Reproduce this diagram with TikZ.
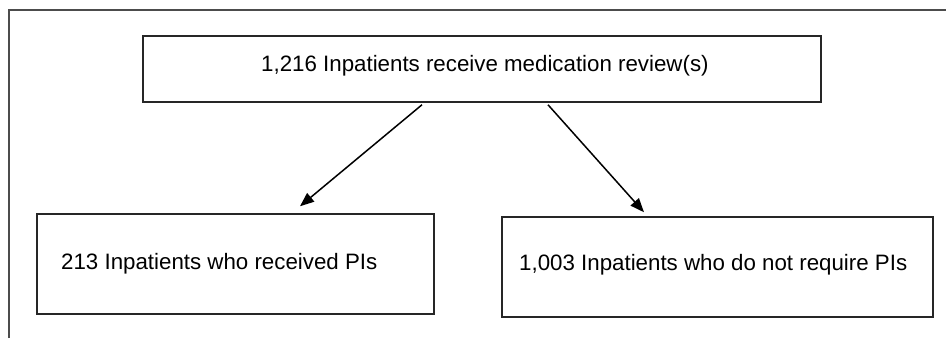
\documentclass[tikz,border=0pt]{standalone}
\usepackage{fontspec}
\setmainfont{Liberation Sans}
\usetikzlibrary{arrows.meta}
\tikzstyle{item} = [rectangle, draw=black!85, line width=1.5pt, inner sep=0pt]
\tikzstyle{label} = [inner sep=0pt, anchor=base west, font=\fontsize{22.3}{26}\selectfont]
\tikzstyle{arrow} = [line width=1.5pt, -{Triangle[length=14pt,width=11pt]}]

\begin{document}
\begin{tikzpicture}[x=1pt,y=-1pt]
\useasboundingbox (0,0) rectangle (946,338);
\draw[black!70, line width=1.3pt] (9,338) -- (9,10) -- (946,10);
\node(review)[item, minimum width=678pt, minimum height=66pt] at (482,69){};
\node(reviewtext)[label] at (261,71){1,216 Inpatients receive medication review(s)};
\node(received)[item, minimum width=397pt, minimum height=100pt] at (235.5,264){};
\node(receivedtext)[label] at (61,269.5){213 Inpatients who received PIs};
\node(norequire)[item, minimum width=431pt, minimum height=100pt] at (717.5,267){};
\node(norequiretext)[label] at (519,270){1,003 Inpatients who do not require PIs};
\coordinate(ls) at ([xshift=-60pt,yshift=-2pt]review.south);
\coordinate(le) at ([xshift=64.5pt,yshift=7pt]received.north);
\draw[arrow] (ls) -- (le);
\coordinate(rs) at ([xshift=66pt,yshift=-2pt]review.south);
\coordinate(re) at ([xshift=-73.5pt,yshift=4pt]norequire.north);
\draw[arrow] (rs) -- (re);
\end{tikzpicture}
\end{document}
